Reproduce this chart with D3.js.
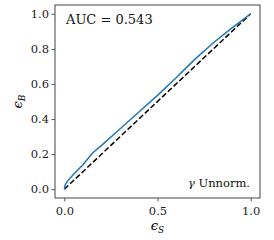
<!DOCTYPE html>
<html>
<head>
<meta charset="utf-8">
<script src="https://cdn.jsdelivr.net/npm/d3@7"></script>
<style>
  body { margin: 0; background: #fff; }
  text { font-family: "DejaVu Serif", serif; }
</style>
</head>
<body>
<svg width="274" height="240"></svg>
<script>
const width = 274;
const height = 240;

// ROC curve
const epsS = [0, 0.005, 0.016, 0.05, 0.1, 0.15, 0.2, 0.3, 0.4, 0.5, 0.6, 0.7, 0.8, 0.9, 0.95, 1.0];
const epsB = [0, 0.025, 0.045, 0.085, 0.14, 0.205, 0.25, 0.345, 0.44, 0.535, 0.635, 0.74, 0.835, 0.92, 0.96, 1.0];
const xTicks = [0, 0.5, 1.0];
const yTicks = [0, 0.2, 0.4, 0.6, 0.8, 1.0];
const aucLabel = 'AUC = 0.543';
const tagLabel = 'Unnorm.';

const margin = { left: 55, right: 14, top: 5, bottom: 42 };
const serif = '"DejaVu Serif", serif';

const renderChart = () => {
    const svg = d3.select('svg');

    const x = d3.scaleLinear().domain([-0.05, 1.05])
        .range([margin.left, width - margin.right]);
    const y = d3.scaleLinear().domain([-0.05, 1.05])
        .range([height - margin.bottom, margin.top]);

    // diagonal
    svg.append('path')
        .datum([0, 1])
        .attr('d', d3.line().x(d => x(d)).y(d => y(d)))
        .style('fill', 'none')
        .style('stroke', '#000')
        .style('stroke-width', 1.5)
        .style('stroke-dasharray', '5.5,2.4');

    svg.append('path')
        .datum(d3.zip(epsS, epsB))
        .attr('d', d3.line().x(d => x(d[0])).y(d => y(d[1])))
        .style('fill', 'none')
        .style('stroke', '#1f77b4')
        .style('stroke-width', 1.5);

    const xAxis = svg.append('g')
        .attr('transform', `translate(0,${height - margin.bottom})`)
        .call(d3.axisBottom(x).tickValues(xTicks).tickFormat(d3.format('.1f'))
            .tickSizeOuter(0).tickSize(3.5).tickPadding(5));
    const yAxis = svg.append('g')
        .attr('transform', `translate(${margin.left},0)`)
        .call(d3.axisLeft(y).tickValues(yTicks).tickFormat(d3.format('.1f'))
            .tickSizeOuter(0).tickSize(3.5).tickPadding(2.5));

    [xAxis, yAxis].forEach(a => {
        a.attr('font-family', serif);
        a.select('.domain').remove();
        a.selectAll('line').style('stroke', '#333').style('stroke-width', 0.8);
        a.selectAll('text')
            .style('font-family', serif)
            .style('font-size', '11.5px')
            .style('fill', '#222');
    });

    // frame
    svg.append('rect')
        .attr('x', margin.left)
        .attr('y', margin.top)
        .attr('width', width - margin.left - margin.right)
        .attr('height', height - margin.top - margin.bottom)
        .style('fill', 'none')
        .style('stroke', '#444')
        .style('stroke-width', 1);

    svg.append('text')
        .attr('x', margin.left + 11)
        .attr('y', 24)
        .style('font-size', '13px')
        .style('fill', '#111')
        .text(aucLabel);

    const tag = svg.append('text')
        .attr('x', 250)
        .attr('y', 187)
        .attr('text-anchor', 'end')
        .style('font-size', '11.5px')
        .style('fill', '#111');
    tag.append('tspan').style('font-style', 'italic').text('γ');
    tag.append('tspan').text(' ' + tagLabel);

    // axis labels
    const xl = svg.append('text')
        .attr('x', (x(0) + x(1)) / 2)
        .attr('y', 230)
        .attr('text-anchor', 'middle')
        .style('font-size', '13px')
        .style('font-style', 'italic');
    xl.append('tspan').text('ϵ');
    xl.append('tspan').attr('dy', 3).style('font-size', '9px').text('S');

    const yl = svg.append('text')
        .attr('transform', `translate(22,${(y(0) + y(1)) / 2}) rotate(-90)`)
        .attr('text-anchor', 'middle')
        .style('font-size', '13px')
        .style('font-style', 'italic');
    yl.append('tspan').text('ϵ');
    yl.append('tspan').attr('dy', 3).style('font-size', '9px').text('B');
}

document.addEventListener('DOMContentLoaded', () => {
    renderChart()
});
</script>
</body>
</html>
